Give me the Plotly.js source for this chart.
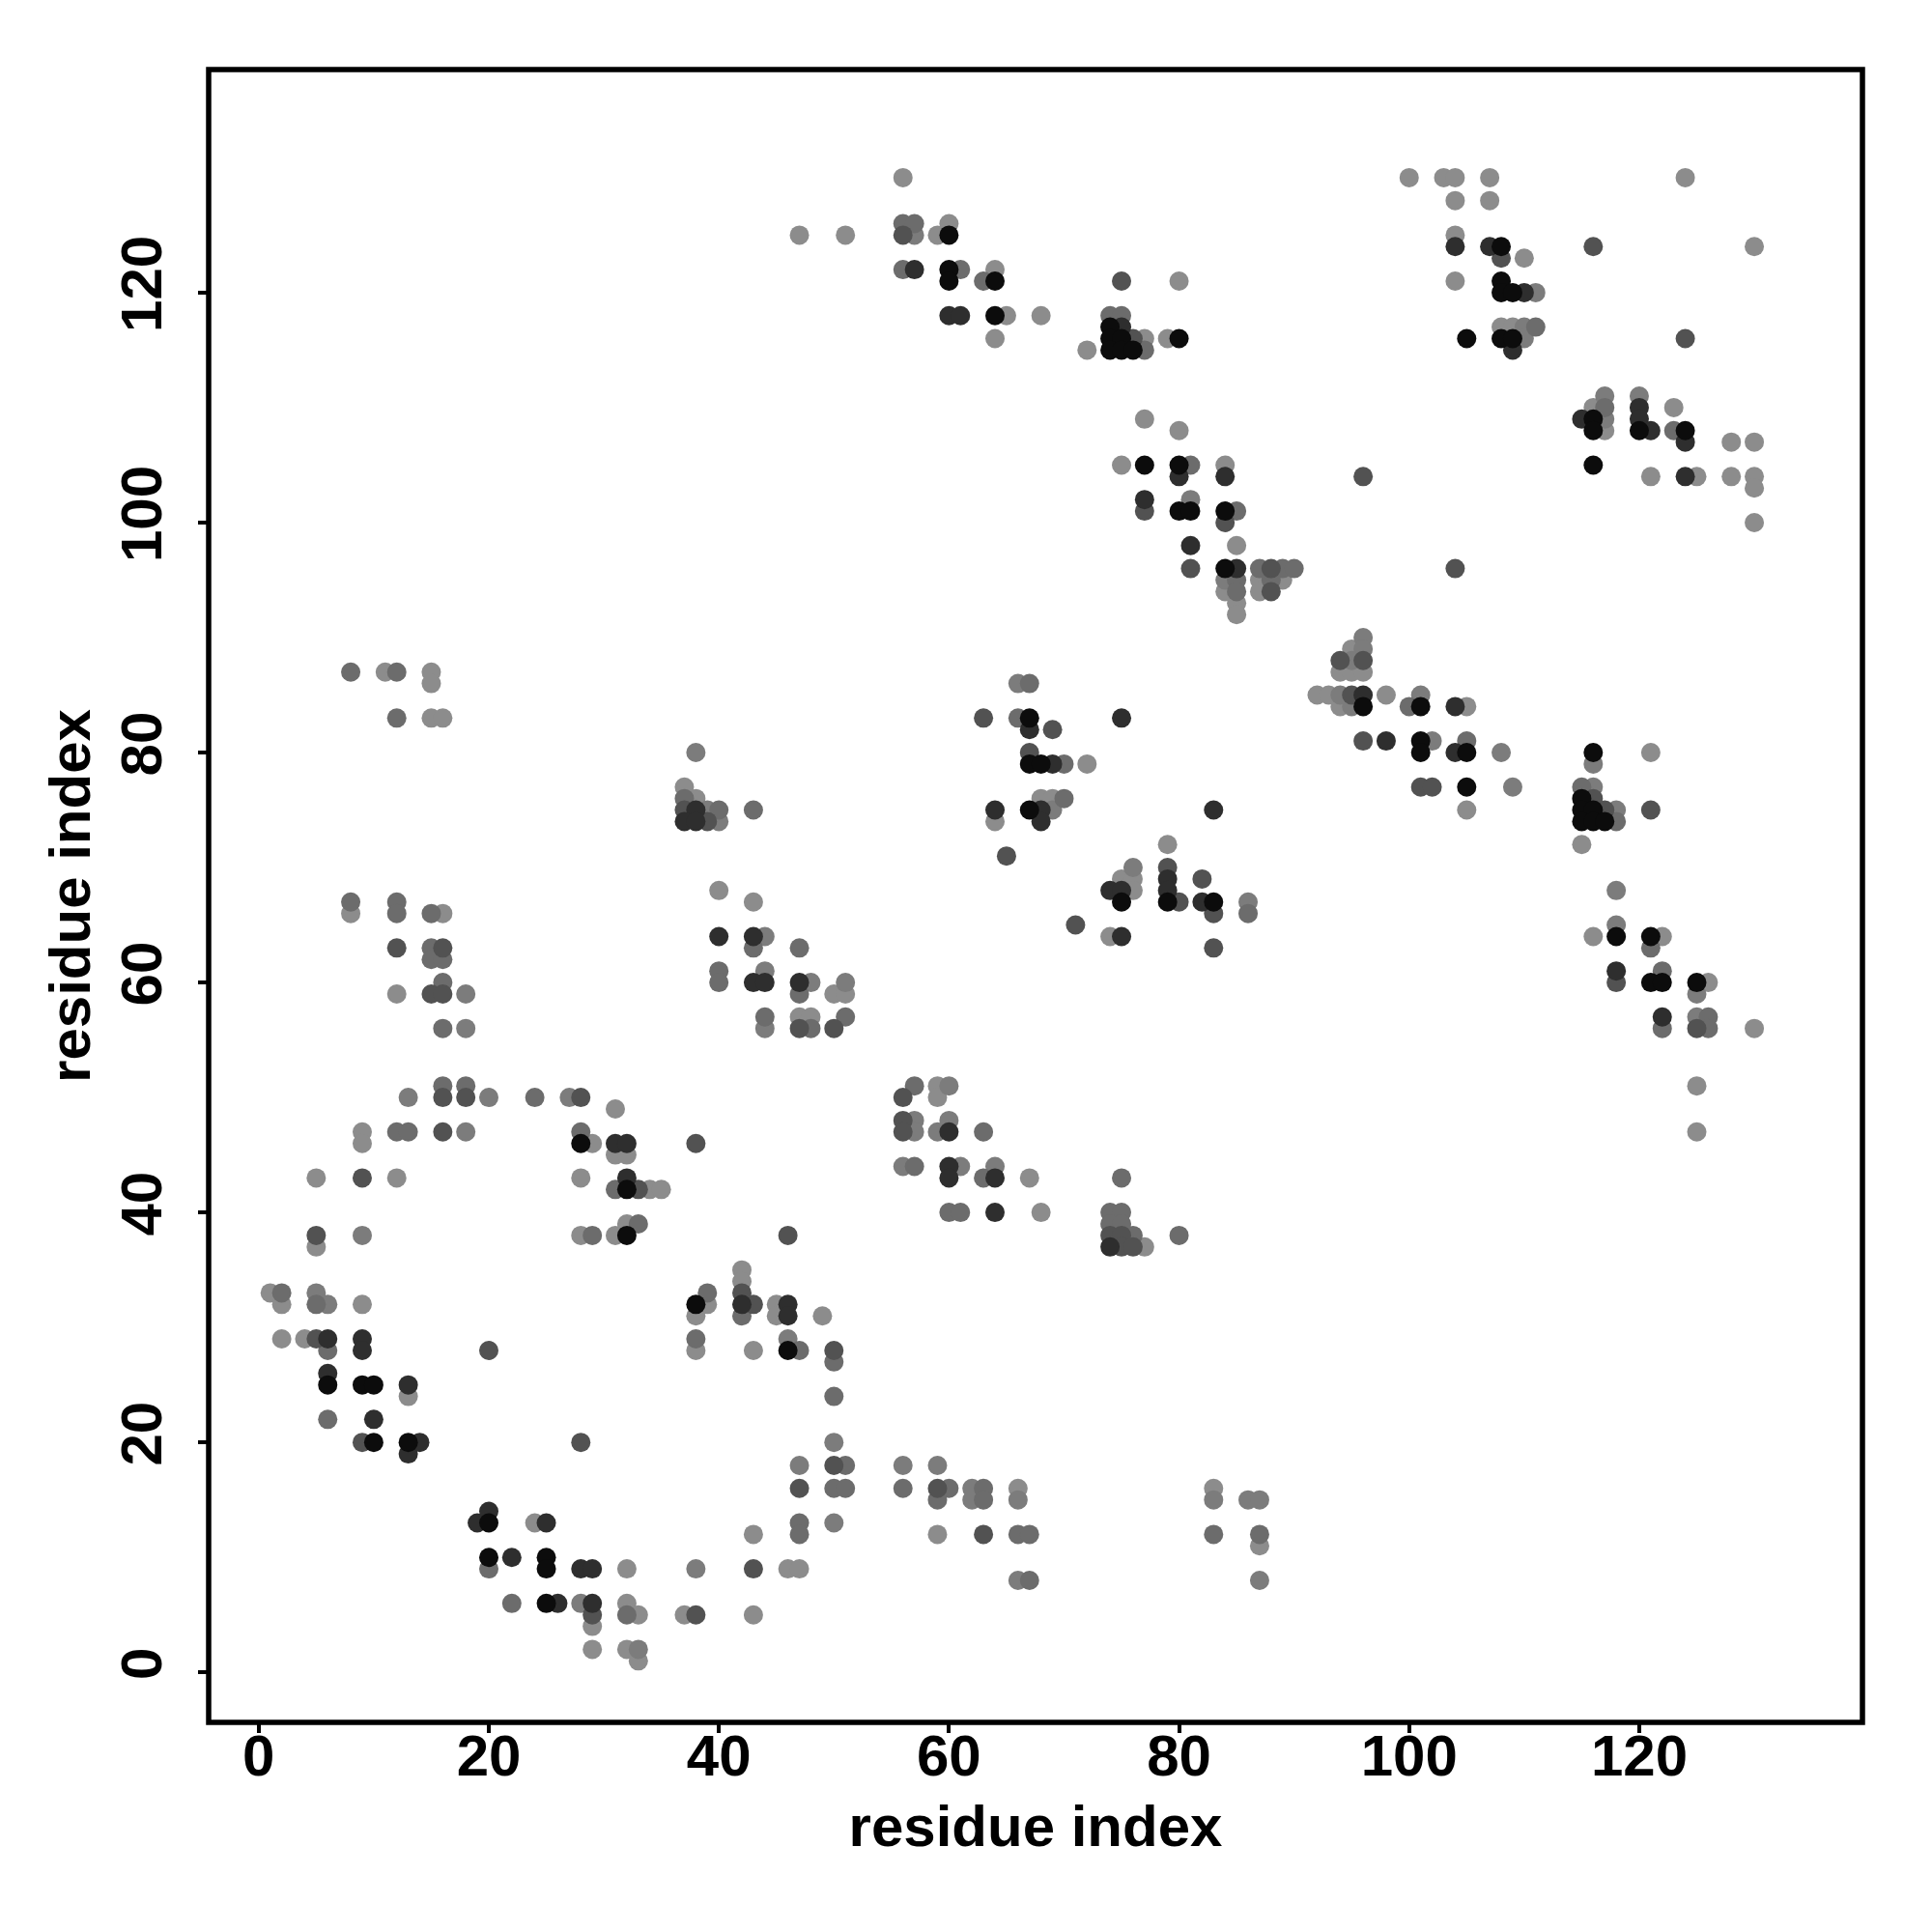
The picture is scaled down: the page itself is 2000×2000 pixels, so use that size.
<!DOCTYPE html>
<html>
<head>
<meta charset="utf-8">
<script src="https://cdn.plot.ly/plotly-3.0.1.min.js"></script>
<style>html,body{margin:0;padding:0;background:#fff;}#chart{width:2000px;height:2000px;}</style>
</head>
<body>
<div id="chart"></div>
<script>
// Contact map points, grouped by gray level (lightest -> darkest)
const lightX = [56,47,51,59,60,64,65,68,64,80,77,72,79,77,80,75,84,85,84,85,85,87,89,87,
  100,103,104,107,104,107,104,110,104,108,109,130,124,116,123,117,128,130,121,125,128,130,130,130,
  11,15,15,15,16,37,38,40,43,8,16,12,31,9,9,29,31,32,5,12,28,
  34,35,5,28,31,32,1,2,9,2,4,13,39,38,42,42,38,43,24,32,43,29,32,33,29,32,33,37,43,
  72,68,69,64,50,51,47,48,79,75,76,76,74,59,59,67,
  68,77,45,45,49,46,47,66,59,83,87,
  95,94,95,96,92,93,94,98,105,105,121,115,116,122,126,130,125,125];
const lightY = [130,125,125,125,126,122,118,118,116,121,116,115,116,109,108,105,105,98,94,93,92,95,95,94,
  130,130,130,130,128,128,125,123,121,117,117,124,130,110,110,108,107,107,104,104,104,104,103,100,
  87,87,86,83,83,77,76,68,67,66,66,59,49,47,46,46,45,45,43,43,43,
  42,42,37,38,38,39,33,32,32,29,29,24,32,31,35,34,28,28,13,9,12,4,6,5,2,2,1,5,5,
  79,76,76,74,59,59,57,57,72,69,69,68,64,51,50,43,
  40,37,32,31,31,9,9,16,12,16,11,
  89,87,87,87,85,85,84,85,84,75,80,72,64,64,60,56,51,47];

const lightMidX = [57,81,84,
  111,110,110,117,120,117,
  38,39,40,44,44,44,18,18,13,20,27,18,
  9,5,6,28,33,38,
  66,69,48,51,76,86,60,57,60,57,59,56,61,64,
  46,50,47,50,56,59,62,62,66,66,83,86,87,87,
  96,96,95,94,95,101,102,108,109,116,116,118,118,118,125,125];
const lightMidY = [125,102,95,
  120,117,116,111,111,109,
  80,75,74,64,61,56,59,56,50,50,50,47,
  38,33,32,6,2,9,
  86,75,60,60,70,67,51,48,48,47,47,44,44,44,
  29,20,18,13,18,18,16,15,15,8,15,15,15,8,
  90,89,88,85,84,85,81,80,77,79,77,75,68,65,59,57];

const midX = [56,57,56,61,63,74,75,77,81,85,85,85,87,89,90,88,
  111,117,123,
  8,12,12,37,40,43,43,40,40,44,8,12,12,15,15,15,16,16,16,16,18,24,12,13,28,
  31,33,29,2,5,6,6,20,39,42,38,22,32,
  67,66,70,70,47,47,48,51,86,57,63,57,63,75,
  60,61,74,75,74,75,76,80,47,50,50,51,50,51,47,47,56,60,59,63,63,66,67,67,83,87,
  100,105,115,118,121,122,122,126,126];
const midY = [126,126,122,122,121,118,118,115,105,101,95,94,96,96,96,95,
  117,110,108,
  87,87,83,76,75,75,63,61,60,57,67,67,66,66,63,62,62,60,56,51,51,50,47,47,47,
  42,39,38,33,32,28,22,9,33,31,29,6,5,
  86,83,79,76,63,59,56,57,66,51,47,44,43,43,
  40,40,40,40,39,39,38,38,28,27,24,18,16,16,13,12,16,16,15,16,15,12,12,8,12,12,
  84,81,77,74,63,61,56,57,56];

const midDarkX = [56,75,76,77,84,81,88,88,
  108,116,124,96,104,
  37,39,12,16,15,16,16,18,28,16,38,9,
  33,5,5,9,20,28,42,43,43,29,38,
  63,69,67,65,47,50,79,82,80,83,71,83,56,56,56,
  74,75,75,76,46,50,50,47,59,63,
  94,96,95,96,101,102,116,117,121,118,125];
const midDarkY = [125,121,116,101,100,96,96,94,
  123,124,116,104,96,
  75,74,63,63,59,59,50,50,50,47,46,43,
  42,38,29,20,28,20,33,32,9,5,5,
  83,82,80,71,56,56,70,69,67,66,65,63,50,48,47,
  38,38,37,37,38,28,18,16,16,12,
  88,88,85,81,77,77,76,75,75,60,56];

const darkX = [57,60,61,75,80,84,77,81,85,
  104,107,110,109,120,115,120,121,124,124,
  38,37,38,40,43,43,44,31,32,32,
  6,9,9,6,13,10,14,13,20,19,25,22,28,29,26,29,42,
  67,75,69,68,68,64,83,47,79,74,75,79,82,75,60,60,60,64,
  64,74,46,46,
  96,98,104,104,118,122];
const darkY = [122,118,118,117,104,104,102,98,96,
  124,124,120,115,110,109,109,108,107,104,
  75,74,74,64,64,60,60,46,46,43,
  29,29,28,26,25,22,20,19,14,13,13,10,9,9,6,6,32,
  82,83,79,75,74,75,75,60,69,68,68,68,67,64,47,44,43,43,
  40,37,32,31,
  85,81,84,80,61,57];

const blackX = [60,60,60,64,64,74,74,75,74,75,76,80,77,80,80,81,84,84,
  108,108,108,109,105,108,109,116,116,120,124,116,
  28,
  32,32,6,9,10,10,13,38,20,20,25,25,25,
  67,67,68,67,75,79,83,
  46,
  96,101,101,101,105,105,116,115,115,116,115,116,117,118,121,121,122,125];
const blackY = [125,122,121,121,118,117,116,116,115,115,115,116,105,105,101,101,101,96,
  124,121,120,120,116,116,116,109,108,108,108,105,
  46,
  42,38,25,25,25,20,20,32,13,10,10,9,6,
  83,79,79,75,67,67,67,
  28,
  84,84,81,80,80,77,80,76,75,75,74,74,74,64,64,60,60,60];

const grayLevels = [
  {name: 'light',      x: lightX,    y: lightY,    color: 'rgb(140,140,140)'},
  {name: 'light-mid',  x: lightMidX, y: lightMidY, color: 'rgb(124,124,124)'},
  {name: 'mid',        x: midX,      y: midY,      color: 'rgb(108,108,108)'},
  {name: 'mid-dark',   x: midDarkX,  y: midDarkY,  color: 'rgb(82,82,82)'},
  {name: 'dark',       x: darkX,     y: darkY,     color: 'rgb(46,46,46)'},
  {name: 'black',      x: blackX,    y: blackY,    color: 'rgb(12,12,12)'}
];

const tickValues = [0, 20, 40, 60, 80, 100, 120];
const tickLabels = ['0', '20', '40', '60', '80', '100', '120'];
const axisTitle = 'residue index';

const fontFamily = 'Liberation Sans, Arial, Helvetica, sans-serif';
const labelFont = {family: fontFamily, size: 60, color: '#000', weight: 'bold'};
const traces = grayLevels.map(g => ({
  type: 'scatter', mode: 'markers', name: g.name,
  x: g.x, y: g.y,
  marker: {size: 20, color: g.color, line: {width: 0}},
  hoverinfo: 'x+y'
}));

function axis(extra) {
  return Object.assign({
    range: [-4.35, 139.4],
    tickmode: 'array', tickvals: tickValues, ticktext: tickLabels,
    ticks: 'outside', ticklen: 10, tickwidth: 4, tickcolor: '#000',
    showgrid: false, zeroline: false, showline: false,
    tickfont: labelFont
  }, extra);
}

const layout = {
  width: 2000, height: 2000,
  margin: {l: 216, r: 72, t: 72, b: 217, pad: 0},
  paper_bgcolor: '#fff', plot_bgcolor: '#fff',
  showlegend: false,
  xaxis: axis({ticklabelstandoff: -28, title: {text: axisTitle, standoff: 18, font: labelFont}}),
  yaxis: axis({tickangle: -90, ticklabelstandoff: 14, title: {text: axisTitle, standoff: 0, font: labelFont}}),
  shapes: [{type: 'rect', xref: 'paper', yref: 'paper', x0: 0, y0: 0, x1: 1, y1: 1,
            line: {color: '#000', width: 5.5}, fillcolor: 'rgba(0,0,0,0)', layer: 'above'}]
};

Plotly.newPlot('chart', traces, layout, {displayModeBar: false, staticPlot: true});
</script>
</body>
</html>
